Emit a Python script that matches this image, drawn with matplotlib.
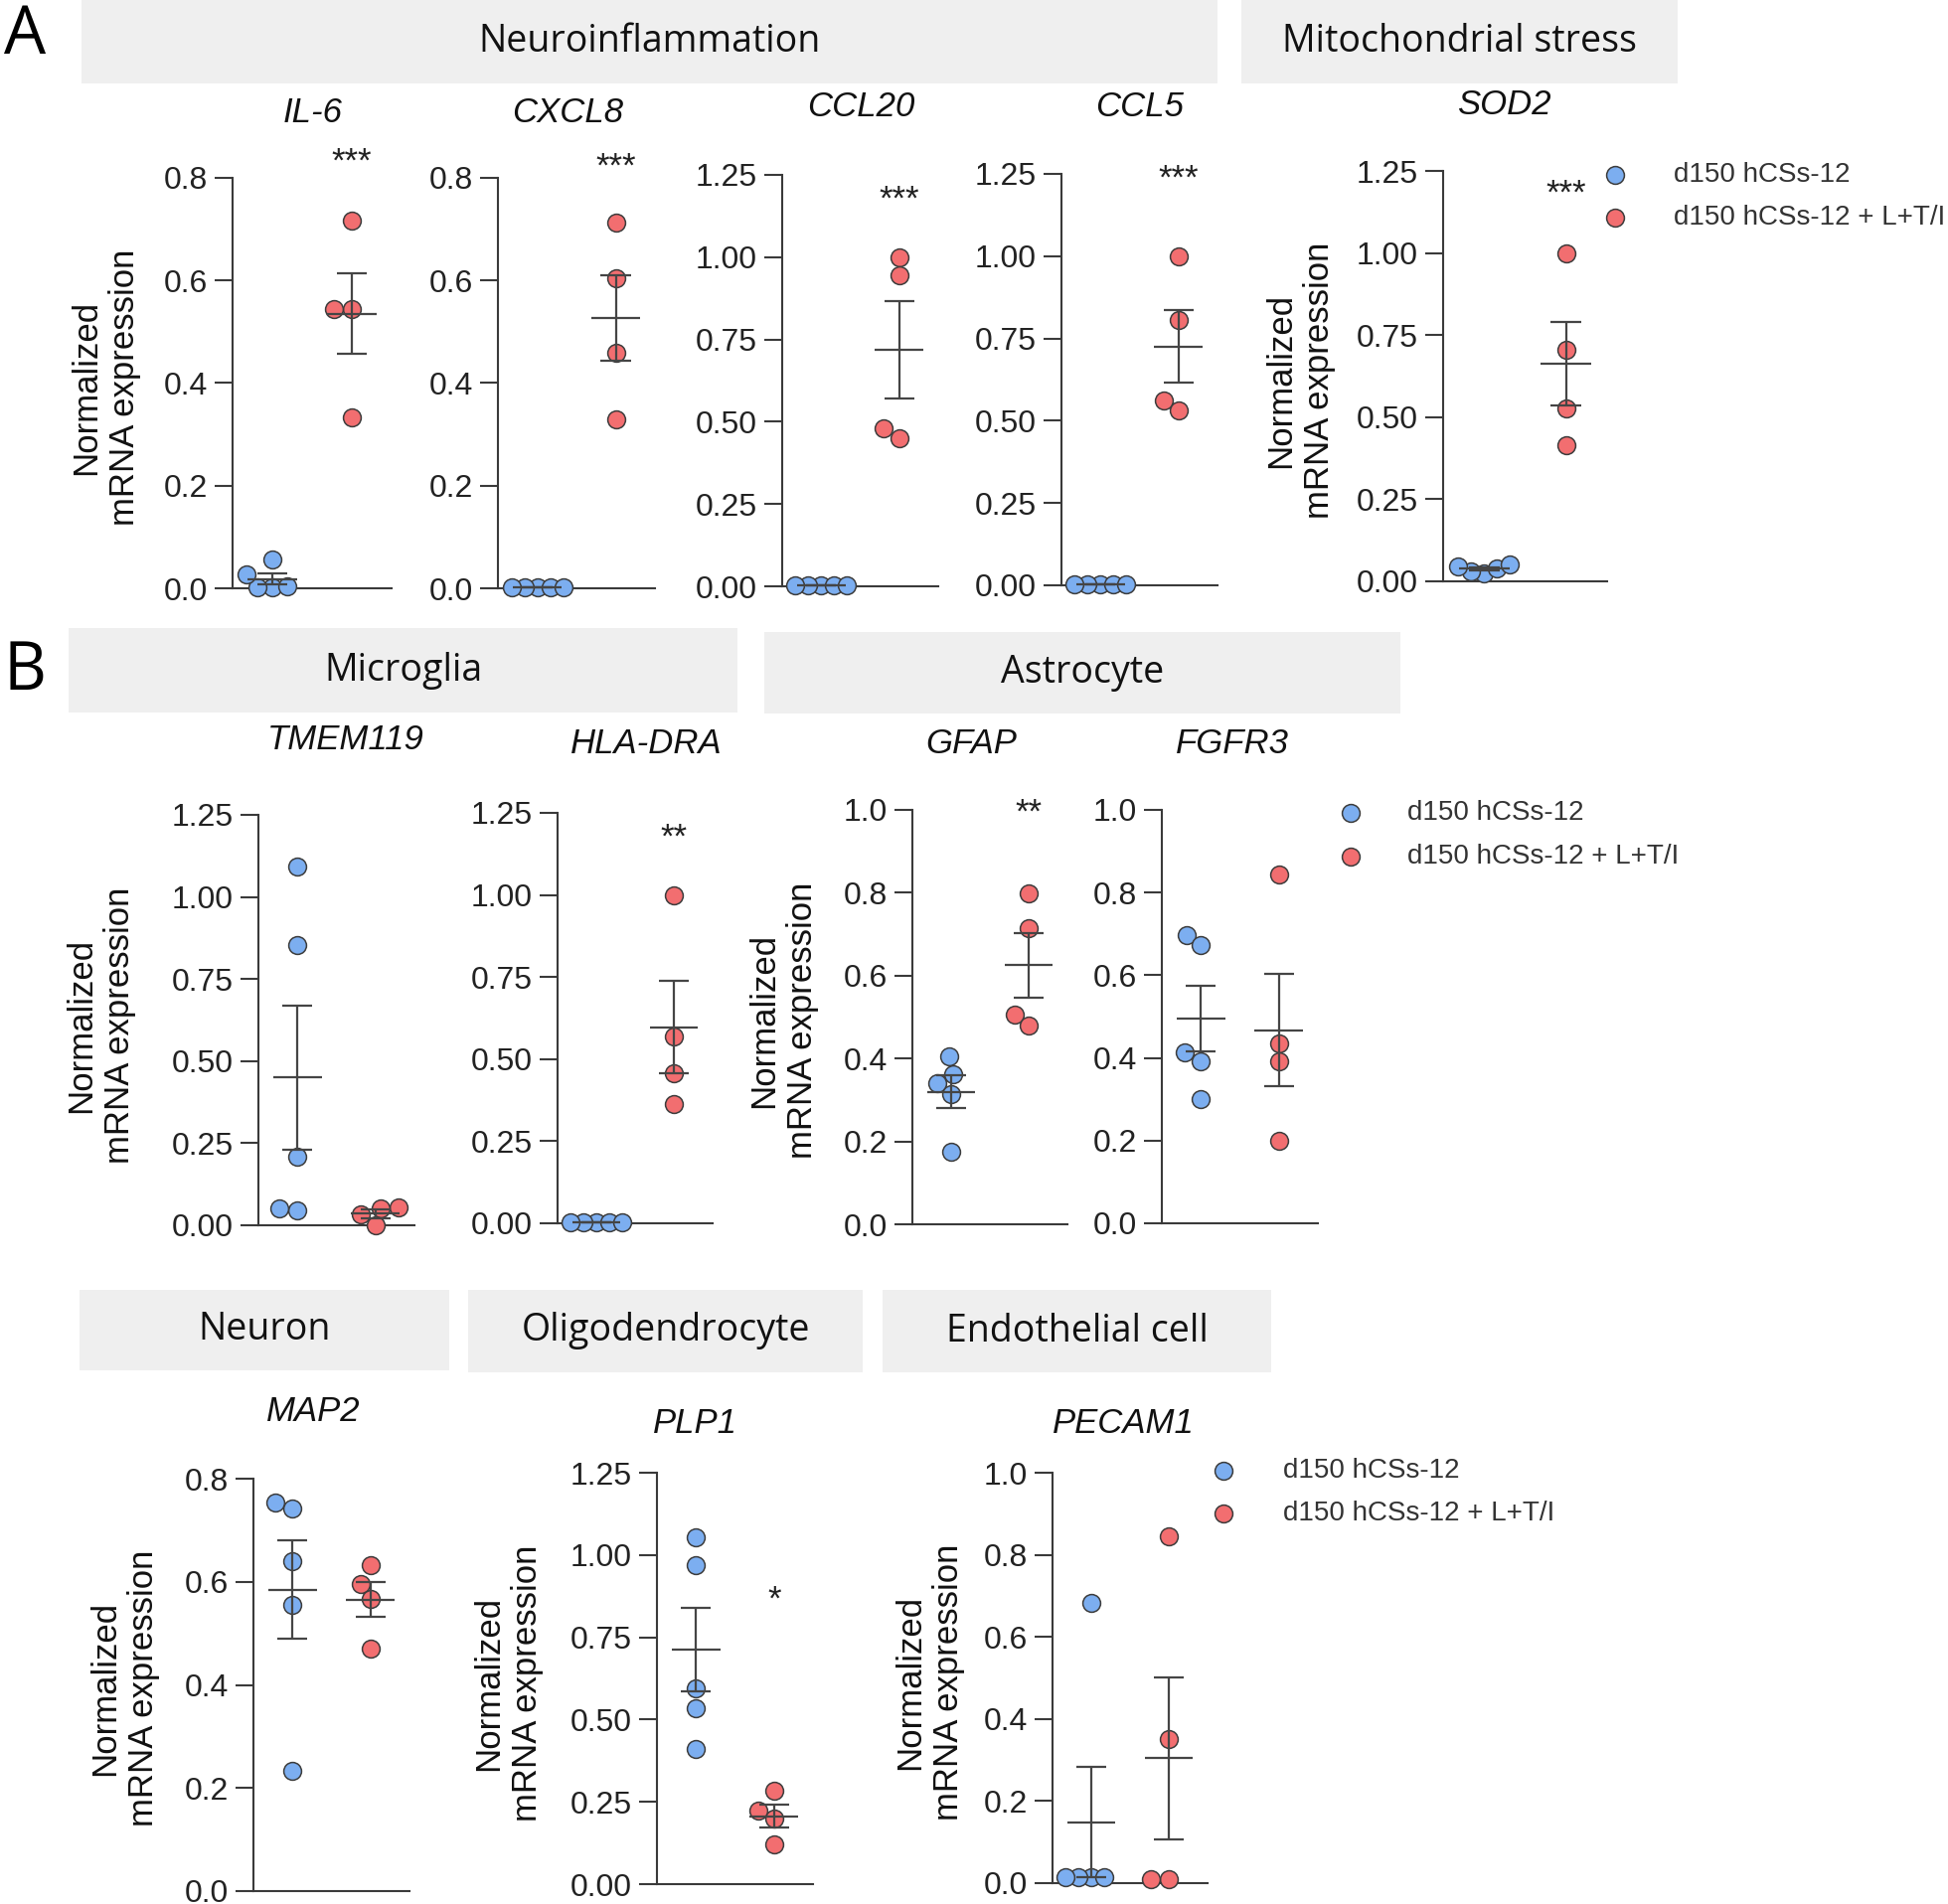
import numpy as np
import matplotlib
matplotlib.use("Agg")
import matplotlib.pyplot as plt
from matplotlib.patches import Rectangle

plt.rcParams["font.family"] = ["Liberation Sans", "DejaVu Sans"]

# ---- data ----
genes = ["IL-6", "CXCL8", "CCL20", "CCL5", "SOD2",
         "TMEM119", "HLA-DRA", "GFAP", "FGFR3",
         "MAP2", "PLP1", "PECAM1"]
series = ["d150 hCSs-12", "d150 hCSs-12 + L+T/I"]

ctrl_vals = [
    [0.001, 0.002, 0.003, 0.027, 0.057],      # IL-6
    [0.002, 0.002, 0.002, 0.002, 0.002],      # CXCL8
    [0.002, 0.002, 0.002, 0.002, 0.002],      # CCL20
    [0.002, 0.002, 0.002, 0.002, 0.002],      # CCL5
    [0.025, 0.03, 0.04, 0.045, 0.05],         # SOD2
    [1.093, 0.854, 0.209, 0.045, 0.05],       # TMEM119
    [0.002, 0.002, 0.002, 0.002, 0.002],      # HLA-DRA
    [0.405, 0.363, 0.341, 0.313, 0.176],      # GFAP
    [0.698, 0.673, 0.413, 0.393, 0.301],      # FGFR3
    [0.753, 0.743, 0.640, 0.556, 0.233],      # MAP2
    [1.055, 0.968, 0.596, 0.533, 0.412],      # PLP1
    [0.683, 0.015, 0.015, 0.015, 0.015],      # PECAM1
]
trt_vals = [
    [0.716, 0.545, 0.545, 0.333],
    [0.712, 0.605, 0.460, 0.329],
    [1.0, 0.944, 0.479, 0.451],
    [1.0, 0.807, 0.562, 0.532],
    [1.0, 0.704, 0.528, 0.416],
    [0.055, 0.052, 0.033, 0.0],
    [1.0, 0.569, 0.458, 0.363],
    [0.799, 0.714, 0.507, 0.480],
    [0.843, 0.436, 0.391, 0.200],
    [0.632, 0.595, 0.566, 0.470],
    [0.283, 0.224, 0.200, 0.120],
    [0.845, 0.352, 0.010, 0.010],
]
sig = ["***", "***", "***", "***", "***", "", "**", "**", "", "", "*", ""]
y_max = [0.8, 0.8, 1.25, 1.25, 1.25, 1.25, 1.25, 1.0, 1.0, 0.8, 1.25, 1.0]
y_step = [0.2, 0.2, 0.25, 0.25, 0.25, 0.25, 0.25, 0.2, 0.2, 0.2, 0.25, 0.2]
groups = ["Neuroinflammation", "Mitochondrial stress", "Microglia", "Astrocyte",
          "Neuron", "Oligodendrocyte", "Endothelial cell"]

# ---- layout, in pixels of the 1960x1916 canvas ----
W, H = 1960, 1916
boxes = [(234, 179, 394, 592), (501, 179, 659, 592), (787, 176, 944, 590),
         (1068, 175, 1225, 589), (1452, 172, 1617, 585),
         (260, 820, 417, 1233), (561, 818, 717, 1231),
         (918, 815, 1074, 1232), (1169, 815, 1326, 1231),
         (255, 1488, 412, 1903), (661, 1482, 818, 1896), (1059, 1482, 1215, 1895)]
title_xy = [(315, 113), (571, 113), (866, 107), (1147, 107), (1513, 105),
            (348, 744), (650, 749), (977, 748), (1240, 748),
            (315, 1420), (699, 1432), (1130, 1432)]
star_y = [163, 168, 201, 180, 195, 0, 843, 818, 0, 0, 1610, 0]
ylab_xy = {0: (106, 390), 4: (1308, 383), 5: (101, 1032), 7: (788, 1027),
           9: (125, 1699), 10: (511, 1694), 11: (935, 1693)}
group_boxes = [(82, 0, 1225, 84), (1249, 0, 1688, 84), (69, 632, 742, 717),
               (769, 636, 1409, 718), (80, 1298, 452, 1379),
               (471, 1298, 868, 1381), (888, 1298, 1279, 1381)]
legend_xy = [(1625, 176, 43, 1684), (1359, 818, 44, 1416), (1231, 1480, 43, 1291)]

blue = "#7caef0"
red = "#f26e70"
edge = "#3c3c3c"
axcol = "#3a3a3a"
bar_col = "#454545"
msize = 165


def swarm(ypx, diam, limit):
    order = np.argsort(ypx, kind="stable")
    placed = []
    offs = np.zeros(len(ypx))
    for i in order:
        y = ypx[i]
        cands = [0.0]
        for px, py in placed:
            dy = abs(y - py)
            if dy < diam:
                dx = np.sqrt(diam ** 2 - dy ** 2)
                cands += [px - dx, px + dx]
        cands.sort(key=lambda c: (round(abs(c), 6), c))
        for c in cands:
            if all((c - px) ** 2 + (y - py) ** 2 >= diam ** 2 - 1e-6
                   for px, py in placed):
                offs[i] = c
                break
        placed.append((offs[i], y))
    m = np.abs(offs).max()
    if m > limit:
        offs *= limit / m
    return offs


fig = plt.figure(figsize=(W / 100, H / 100), dpi=100)
bg = fig.add_axes([0, 0, 1, 1])
bg.set_xlim(0, W)
bg.set_ylim(H, 0)
bg.axis("off")

for (x0, y0, x1, y1), name in zip(group_boxes, groups):
    bg.add_patch(Rectangle((x0, y0), x1 - x0, y1 - y0, color="#efefef", lw=0))
    bg.text((x0 + x1) / 2, (y0 + y1) / 2, name, ha="center", va="center",
            fontsize=27, family="Open Sans", color="#111111")

bg.text(25, 36, "A", ha="center", va="center", fontsize=48, family="Open Sans")
bg.text(25, 676, "B", ha="center", va="center", fontsize=48, family="Open Sans")

for mx, my, dy, tx in legend_xy:
    for j, (lab, col) in enumerate(zip(series, [blue, red])):
        bg.scatter([mx], [my + j * dy], s=msize, c=col, edgecolors=edge,
                   linewidths=1.1, clip_on=False)
        bg.text(tx, my + j * dy, lab, ha="left", va="center", fontsize=20,
                color="#333333")

for k, gene in enumerate(genes):
    l, t, r, b = boxes[k]
    ax = fig.add_axes([l / W, 1 - b / H, (r - l) / W, (b - t) / H])
    ax.patch.set_alpha(0)
    ymax = y_max[k]
    ax.set_xlim(-0.5, 1.5)
    ax.set_ylim(0, ymax)
    xpx = (r - l) / 2.0
    ypx = (b - t) / ymax
    for j, (vals, col) in enumerate(((ctrl_vals[k], blue), (trt_vals[k], red))):
        v = np.array(vals)
        off = swarm(v * ypx, 18.0, 26.0) / xpx
        ax.scatter(j + off, v, s=msize, c=col, edgecolors=edge, linewidths=1.1,
                   zorder=3, clip_on=False)
        m = v.mean()
        se = v.std(ddof=1) / np.sqrt(len(v))
        ax.hlines(m, j - 0.31, j + 0.31, color=bar_col, lw=1.6, zorder=4,
                  clip_on=False)
        ax.vlines(j, m - se, m + se, color=bar_col, lw=1.6, zorder=4,
                  clip_on=False)
        ax.hlines([m - se, m + se], j - 0.19, j + 0.19, color=bar_col,
                  lw=1.6, zorder=4, clip_on=False)

    ticks = np.arange(0, ymax + 1e-9, y_step[k])
    ax.set_yticks(ticks)
    fmt = "{:.2f}" if y_step[k] == 0.25 else "{:.1f}"
    ax.set_yticklabels([fmt.format(tk) for tk in ticks])
    ax.set_xticks([])
    for s in ["top", "right"]:
        ax.spines[s].set_visible(False)
    for s in ["left", "bottom"]:
        ax.spines[s].set_color(axcol)
        ax.spines[s].set_linewidth(1.5)
    ax.tick_params(axis="y", length=13, width=1.5, color=axcol, pad=5,
                   labelsize=23, labelcolor="#222222")

    tx, ty = title_xy[k]
    bg.text(tx, ty, gene, ha="center", va="center", fontsize=25,
            style="italic", color="#111111")
    if sig[k]:
        ax.text(1, (b - star_y[k]) / (b - t) * ymax, sig[k], ha="center",
                va="center", fontsize=25, color="#222222", clip_on=False)
    if k in ylab_xy:
        lx, ly = ylab_xy[k]
        bg.text(lx, ly, "Normalized\nmRNA expression", rotation=90,
                ha="center", va="center", fontsize=25, linespacing=1.25,
                color="#111111")

fig.savefig("out.png", dpi=100)
